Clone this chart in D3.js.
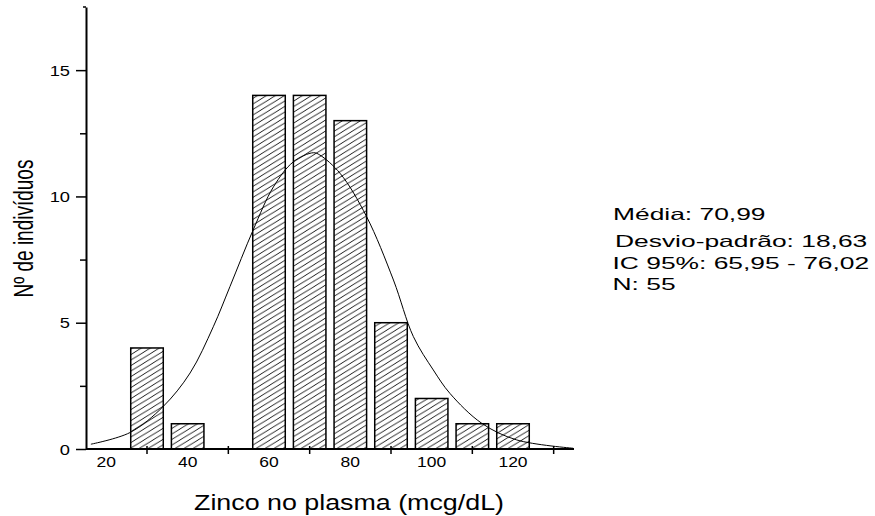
<!DOCTYPE html>
<html>
<head>
<meta charset="utf-8">
<script src="https://cdn.jsdelivr.net/npm/d3@7"></script>
<style>
  body { margin: 0; background: #fff; }
  text { font-family: "Liberation Sans", Arial, sans-serif; fill: #000; }
</style>
</head>
<body>
<script>
// histogram bins (centre of each bin) and counts
var binCenters = [30, 40, 60, 70, 80, 90, 100, 110, 120];
var counts = [4, 1, 14, 14, 13, 5, 2, 1, 1];

// fitted normal curve
var curveX = [16.2, 25.8, 33.9, 40.6, 46.3, 50.4, 56.1, 61.1, 66.0, 70.9, 72.5, 77.5, 84.0, 90.6, 95.5, 100.4, 104.5, 112.3, 120.9, 134.8];
var curveY = [0.19, 0.65, 1.67, 3.01, 4.84, 6.43, 8.67, 10.38, 11.37, 11.73, 11.64, 10.91, 9.20, 6.69, 4.45, 3.13, 2.20, 1.02, 0.36, 0.03];

var xLabels = [20, 40, 60, 80, 100, 120];
var xTicks = [30, 50, 70, 90, 110, 130];
var yMajor = [0, 5, 10, 15];
var yMinor = [2.5, 7.5, 12.5];

var stats = ["Média: 70,99", "Desvio-padrão: 18,63", "IC 95%: 65,95 - 76,02", "N: 55"];

var w = 875, h = 516;
var barW = 8; // bin width in data units

var x = d3.scaleLinear().domain([15, 135]).range([86, 574]);
var y = d3.scaleLinear().domain([0, 17.5]).range([449, 7]);

var svg = d3.select("body").append("svg")
    .attr("width", w)
    .attr("height", h);

var pat = svg.append("defs").append("pattern")
    .attr("id", "hatch")
    .attr("patternUnits", "userSpaceOnUse")
    .attr("width", 9)
    .attr("height", 5.5);
pat.append("rect").attr("width", 9).attr("height", 5.5).attr("fill", "#fff");
pat.append("path")
    .attr("d", "M0,5.5L9,0M-3,1.83L3,-1.83M6,7.33L12,3.67")
    .attr("stroke", "#000")
    .attr("stroke-width", 0.9);

// bars
svg.selectAll("rect.bar")
  .data(counts)
  .enter()
  .append("rect")
  .attr("class", "bar")
  .attr("x", function(d, i){ return x(binCenters[i] - barW / 2); })
  .attr("width", function(d, i){ return x(binCenters[i] + barW / 2) - x(binCenters[i] - barW / 2); })
  .attr("y", function(d){ return y(d); })
  .attr("height", function(d){ return y(0) - y(d); })
  .style("fill", "url(#hatch)")
  .style("stroke", "#000")
  .style("stroke-width", 1.5);

// normal curve
var line = d3.line()
    .x(function(d, i){ return x(curveX[i]); })
    .y(function(d){ return y(d); })
    .curve(d3.curveCatmullRom);

svg.append("path")
    .attr("d", line(curveY))
    .attr("fill", "none")
    .attr("stroke", "#000")
    .attr("stroke-width", 1);

// y axis
var yAxis = d3.axisLeft(y).tickValues(yMajor).tickSize(10).tickPadding(6).tickSizeOuter(0);
var gy = svg.append("g").attr("transform", "translate(86,0)").call(yAxis);
gy.select(".domain").attr("stroke-width", 2);
gy.selectAll(".tick line").attr("stroke-width", 1.5);
gy.selectAll(".tick text").remove();
gy.selectAll(".tick").append("text")
    .attr("text-anchor", "end")
    .attr("dy", "0.35em")
    .attr("transform", "translate(-16,0) scale(1.22,1)")
    .style("font-size", "15px")
    .text(function(d){ return d; });

svg.append("g").attr("transform", "translate(86,0)")
    .call(d3.axisLeft(y).tickValues(yMinor).tickSize(6).tickFormat("").tickSizeOuter(0))
    .call(function(g){ g.select(".domain").remove(); })
    .selectAll("line").attr("stroke-width", 1.5);

svg.append("line")
    .attr("x1", 83).attr("x2", 86)
    .attr("y1", y(17.5)).attr("y2", y(17.5))
    .attr("stroke", "#000").attr("stroke-width", 1.5);

// x axis
svg.append("line")
    .attr("x1", x(15)).attr("x2", x(135))
    .attr("y1", y(0)).attr("y2", y(0))
    .attr("stroke", "#000").attr("stroke-width", 1.8);

svg.selectAll("line.xtick")
  .data(xTicks)
  .enter()
  .append("line")
  .attr("class", "xtick")
  .attr("x1", function(d){ return x(d); })
  .attr("x2", function(d){ return x(d); })
  .attr("y1", y(0) - 3)
  .attr("y2", y(0) + 5)
  .attr("stroke", "#000")
  .attr("stroke-width", 1.5);

svg.selectAll("text.xlab")
  .data(xLabels)
  .enter()
  .append("text")
  .attr("class", "xlab")
  .attr("text-anchor", "middle")
  .attr("transform", function(d){ return "translate(" + x(d) + ",466.5) scale(1.25,1)"; })
  .style("font-size", "14px")
  .text(function(d){ return d; });

// axis titles
svg.append("text")
    .attr("text-anchor", "middle")
    .attr("transform", "translate(349,510) scale(1.22,1)")
    .style("font-size", "22px")
    .text("Zinco no plasma (mcg/dL)");

svg.append("text")
    .attr("text-anchor", "middle")
    .attr("transform", "translate(33,228.5) scale(1.45,1) rotate(-90)")
    .style("font-size", "19px")
    .text("Nº de indivíduos");

// statistics
var statX = [613, 615, 612.5, 612.5];
var statY = [220, 247, 269, 290];
svg.selectAll("text.stat")
  .data(stats)
  .enter()
  .append("text")
  .attr("class", "stat")
  .attr("transform", function(d, i){ return "translate(" + statX[i] + "," + statY[i] + ") scale(1.6,1)"; })
  .style("font-size", "16.5px")
  .text(function(d){ return d; });
</script>
</body>
</html>
